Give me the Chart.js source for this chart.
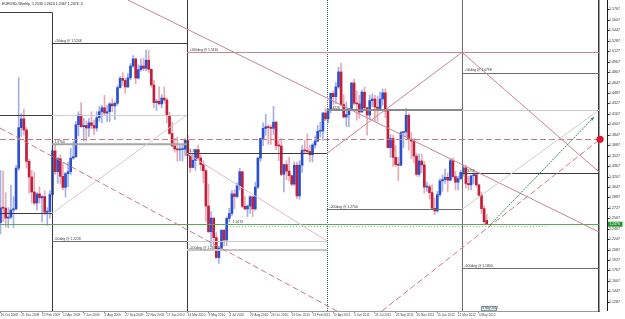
<!DOCTYPE html>
<html><head><meta charset="utf-8">
<script src="https://cdn.jsdelivr.net/npm/chart.js@4.4.0/dist/chart.umd.min.js"></script>
<style>html,body{margin:0;padding:0;background:#fff;overflow:hidden}canvas{display:block}</style>
</head><body>
<canvas id="c" width="625" height="319"></canvas>
<script>
// Weekly EURUSD candles, week index 0 = 26 Oct 2008 ... 187 = 27 May 2012
const opens = [
1.2500,1.2727,1.2722,1.2570,1.2585,1.2695,1.2712,1.3335,1.3955,1.4090,
1.3920,1.3440,1.3200,1.2970,1.2800,1.2940,1.2880,1.2900,1.2660,1.2670,
1.2930,1.3600,1.3280,1.3480,1.3210,1.3040,1.3250,1.3280,1.3490,1.3510,
1.4000,1.4150,1.3970,1.3990,1.3950,1.4030,1.3990,1.3950,1.4110,1.4200,
1.4260,1.4180,1.4200,1.4320,1.4290,1.4330,1.4570,1.4710,1.4680,1.4580,
1.4720,1.4900,1.5010,1.4715,1.4845,1.4900,1.4865,1.4990,1.4850,1.4610,
1.4340,1.4360,1.4320,1.4410,1.4380,1.4140,1.3865,1.3675,1.3630,1.3615,
1.3620,1.3625,1.3760,1.3530,1.3345,1.3455,1.3615,1.3490,1.3390,1.3295,
1.2755,1.2360,1.2570,1.2270,1.1965,1.2110,1.2385,1.2235,1.2565,1.2640,
1.2940,1.2900,1.3065,1.3280,1.2750,1.2710,1.2755,1.2895,1.2710,1.3045,
1.3490,1.3790,1.3945,1.3970,1.3955,1.3945,1.4040,1.3690,1.3675,1.3240,
1.3390,1.3290,1.3220,1.3090,1.3380,1.2910,1.3380,1.3610,1.3600,1.3590,
1.3540,1.3690,1.3750,1.3900,1.3905,1.4180,1.4090,1.4230,1.4480,1.4430,
1.4580,1.4810,1.4310,1.4120,1.4155,1.4250,1.4640,1.4330,1.4320,1.4195,
1.4500,1.4260,1.4150,1.4370,1.4395,1.4270,1.4250,1.4395,1.4490,1.4210,
1.3650,1.3790,1.3500,1.3390,1.3380,1.3880,1.3890,1.4145,1.3780,1.3750,
1.3520,1.3240,1.3445,1.3385,1.3045,1.3050,1.2960,1.2720,1.2680,1.2930,
1.3140,1.3160,1.3195,1.3150,1.3450,1.3205,1.3120,1.3175,1.3270,1.3340,
1.3100,1.3080,1.3220,1.3235,1.3080,1.2920,1.2715,1.2535];
const highs = [
1.3297,1.3292,1.2960,1.2730,1.3070,1.2900,1.3377,1.4720,1.4170,1.4240,
1.3960,1.3470,1.3300,1.3270,1.2960,1.3050,1.2920,1.2990,1.2730,1.2990,
1.3740,1.3700,1.3500,1.3540,1.3420,1.3270,1.3430,1.3640,1.3740,1.4050,
1.4200,1.4340,1.4100,1.4060,1.4100,1.4200,1.4070,1.4200,1.4280,1.4300,
1.4450,1.4300,1.4340,1.4400,1.4350,1.4600,1.4740,1.4800,1.4710,1.4790,
1.4940,1.5060,1.5020,1.4920,1.5010,1.5020,1.5144,1.5140,1.4860,1.4680,
1.4390,1.4580,1.4460,1.4580,1.4410,1.4190,1.4040,1.3790,1.3810,1.3690,
1.3700,1.3790,1.3840,1.3630,1.3560,1.3630,1.3690,1.3530,1.3450,1.3320,
1.3090,1.2670,1.2570,1.2350,1.2140,1.2390,1.2390,1.2590,1.2720,1.2990,
1.3000,1.3110,1.3334,1.3290,1.2900,1.2770,1.2910,1.2900,1.3120,1.3500,
1.3790,1.4030,1.4160,1.4000,1.3990,1.4282,1.4050,1.3760,1.3790,1.3400,
1.3450,1.3500,1.3230,1.3430,1.3430,1.3450,1.3680,1.3760,1.3860,1.3690,
1.3710,1.3830,1.3990,1.4040,1.4190,1.4250,1.4250,1.4490,1.4520,1.4650,
1.4880,1.4940,1.4460,1.4350,1.4250,1.4650,1.4700,1.4520,1.4450,1.4530,
1.4580,1.4270,1.4450,1.4470,1.4450,1.4440,1.4500,1.4550,1.4550,1.4240,
1.3850,1.3840,1.3680,1.3500,1.3900,1.3900,1.4247,1.4170,1.3880,1.3790,
1.3560,1.3550,1.3550,1.3440,1.3120,1.3080,1.3080,1.2880,1.2980,1.3170,
1.3230,1.3320,1.3260,1.3486,1.3490,1.3290,1.3210,1.3300,1.3390,1.3380,
1.3210,1.3210,1.3270,1.3280,1.3080,1.2970,1.2760,1.2624];
const lows = [
1.2330,1.2520,1.2430,1.2420,1.2560,1.2425,1.2690,1.3300,1.3820,1.3840,
1.3340,1.2950,1.2800,1.2770,1.2690,1.2800,1.2510,1.2620,1.2457,1.2570,
1.2890,1.3240,1.3100,1.3100,1.3000,1.2890,1.3050,1.3230,1.3470,1.3500,
1.3830,1.3960,1.3750,1.3750,1.3820,1.3940,1.3850,1.3900,1.4050,1.4030,
1.4150,1.4050,1.4050,1.4200,1.4080,1.4300,1.4560,1.4600,1.4480,1.4570,
1.4690,1.4880,1.4630,1.4700,1.4820,1.4830,1.4830,1.4800,1.4580,1.4260,
1.4220,1.4310,1.4260,1.4330,1.4030,1.3850,1.3670,1.3580,1.3440,1.3450,
1.3440,1.3530,1.3520,1.3270,1.3340,1.3300,1.3470,1.3300,1.3110,1.2520,
1.2350,1.2140,1.2140,1.1950,1.1876,1.2090,1.2140,1.2150,1.2510,1.2610,
1.2710,1.2880,1.3000,1.2730,1.2700,1.2590,1.2640,1.2590,1.2690,1.3020,
1.3440,1.3680,1.3840,1.3700,1.3700,1.3850,1.3620,1.3450,1.3220,1.2970,
1.3160,1.3140,1.3060,1.3070,1.2870,1.2860,1.3270,1.3570,1.3570,1.3430,
1.3430,1.3640,1.3740,1.3810,1.3760,1.4060,1.4030,1.4180,1.4310,1.4320,
1.4560,1.4290,1.4100,1.3970,1.3970,1.4220,1.4300,1.4070,1.4100,1.4190,
1.4230,1.3840,1.4080,1.4280,1.4050,1.4050,1.4220,1.4300,1.4110,1.3640,
1.3500,1.3360,1.3360,1.3146,1.3370,1.3650,1.3820,1.3610,1.3480,1.3420,
1.3210,1.3210,1.3260,1.2950,1.2980,1.2860,1.2700,1.2624,1.2660,1.2900,
1.2980,1.3100,1.2970,1.3140,1.3180,1.3000,1.3000,1.3160,1.3210,1.3030,
1.3000,1.3000,1.3100,1.3050,1.2900,1.2640,1.2490,1.2467];
const closes = [
1.2727,1.2722,1.2570,1.2585,1.2695,1.2712,1.3335,1.3955,1.4090,1.3920,
1.3440,1.3200,1.2970,1.2800,1.2940,1.2880,1.2900,1.2660,1.2670,1.2930,
1.3600,1.3280,1.3480,1.3210,1.3040,1.3250,1.3280,1.3490,1.3510,1.4000,
1.4150,1.3970,1.3990,1.3950,1.4030,1.3990,1.3950,1.4110,1.4200,1.4260,
1.4180,1.4200,1.4320,1.4290,1.4330,1.4570,1.4710,1.4680,1.4580,1.4720,
1.4900,1.5010,1.4715,1.4845,1.4900,1.4865,1.4990,1.4850,1.4610,1.4340,
1.4360,1.4320,1.4410,1.4380,1.4140,1.3865,1.3675,1.3630,1.3615,1.3625,
1.3625,1.3760,1.3530,1.3345,1.3455,1.3615,1.3490,1.3390,1.3295,1.2755,
1.2360,1.2570,1.2270,1.1965,1.2110,1.2385,1.2235,1.2565,1.2640,1.2940,
1.2900,1.3065,1.3280,1.2750,1.2710,1.2755,1.2895,1.2710,1.3045,1.3490,
1.3790,1.3945,1.3970,1.3955,1.3945,1.4040,1.3680,1.3675,1.3240,1.3390,
1.3290,1.3220,1.3090,1.3380,1.2910,1.3380,1.3610,1.3600,1.3590,1.3540,
1.3690,1.3750,1.3900,1.3905,1.4180,1.4090,1.4230,1.4480,1.4430,1.4580,
1.4810,1.4310,1.4120,1.4155,1.4250,1.4640,1.4330,1.4320,1.4195,1.4500,
1.4260,1.4150,1.4370,1.4395,1.4270,1.4250,1.4395,1.4490,1.4210,1.3650,
1.3790,1.3500,1.3390,1.3380,1.3880,1.3890,1.4145,1.3780,1.3750,1.3520,
1.3240,1.3445,1.3385,1.3045,1.3050,1.2960,1.2720,1.2680,1.2930,1.3140,
1.3160,1.3195,1.3150,1.3450,1.3205,1.3120,1.3175,1.3270,1.3340,1.3100,
1.3080,1.3220,1.3235,1.3080,1.2920,1.2715,1.2515,1.2476];

// Date axis labels (every 8th week) and their week indices
const xTickIdx = [0,8,16,24,32,40,48,56,64,72,80,88,96,104,112,120,128,136,144,152,160,168,176,184];
const xLabels = ['26 Oct 2008','21 Dec 2008','15 Feb 2009','12 Apr 2009','7 Jun 2009','2 Aug 2009','27 Sep 2009','22 Nov 2009','17 Jan 2010','14 Mar 2010','9 May 2010','4 Jul 2010','29 Aug 2010','24 Oct 2010','19 Dec 2010','13 Feb 2011','10 Apr 2011','5 Jun 2011','31 Jul 2011','25 Sep 2011','20 Nov 2011','15 Jan 2012','11 Mar 2012','6 May 2012'];
// Price axis labels
const yTicks = [1.1287,1.1447,1.1607,1.1767,1.1927,1.2087,1.2247,1.2407,1.2567,1.2727,1.2887,1.3047,1.3207,1.3367,1.3527,1.3687,1.3847,1.4007,1.4167,1.4327,1.4487,1.4647,1.4807,1.4967,1.5127,1.5287,1.5447,1.5607,1.5767];

// Chart objects in data coordinates: [fromWeek, fromPrice, toWeek, toPrice, styleName]
const objLines = [
  [-0.2,1.5724,19.8,1.5724,'dark'],
  [19.8,1.5724,19.8,1.1146,'dark'],
  [71.73,1.5912,71.73,1.1146,'dark'],
  [125.6,1.5912,125.6,1.1146,'tealDot'],
  [177.5,1.5912,177.5,1.1146,'midGray'],
  [19.8,1.5248,71.73,1.5248,'dark'],
  [71.73,1.5110,230.2,1.5110,'pink'],
  [-0.2,1.4150,19.8,1.4150,'dark'],
  [19.8,1.4150,71.73,1.4150,'light'],
  [-0.2,1.3777,230.6,1.3777,'pinkDash'],
  [19.8,1.3700,71.73,1.3700,'thickGray'],
  [71.73,1.3563,125.6,1.3563,'dark'],
  [125.6,1.4226,177.5,1.4226,'thickMid'],
  [177.5,1.4226,230.2,1.4226,'light'],
  [177.5,1.4798,230.2,1.4798,'midGray'],
  [177.5,1.3256,230.2,1.3256,'dark'],
  [125.6,1.2704,177.5,1.2704,'midGray'],
  [-0.2,1.2474,230.2,1.2474,'green'],
  [88.3,1.2448,210.6,1.2448,'greenDot'],
  [177.5,1.1800,230.2,1.1800,'midGray'],
  [-0.2,1.2643,19.8,1.2643,'dark'],
  [19.8,1.2218,71.73,1.2218,'midGray'],
  [71.73,1.2218,125.6,1.2218,'light'],
  [71.73,1.2081,125.6,1.2081,'thickLight'],
  [49.0,1.5912,230.2,1.2356,'pink'],
  [-0.2,1.3950,129.4,1.1146,'pinkDash'],
  [19.8,1.2643,71.73,1.4150,'light'],
  [71.73,1.3563,125.6,1.2218,'lightPink'],
  [125.6,1.3563,177.5,1.5110,'pink'],
  [177.5,1.5110,230.2,1.3276,'pink'],
  [177.5,1.2704,230.2,1.4226,'light'],
  [146.7,1.1146,230.6,1.3777,'pinkDash']
];
const trendArrow = [188.3,1.2467,228.3,1.4119];
const alertPoint = [230.6,1.3777];
// [week, price, text]
const objLabels = [
  [19.8,1.5248,'+50deg @ 1.5248'],
  [71.73,1.5110,'+200deg @ 1.5110'],
  [19.8,1.3700,'1.3700'],
  [71.73,1.3563,'1.3563'],
  [19.8,1.2218,'-50deg @ 1.2218'],
  [71.73,1.2081,'-200deg @ 1.2081'],
  [88.3,1.2474,'1.2474'],
  [125.6,1.4226,'1.4226'],
  [125.6,1.2704,'-200deg @ 1.2704'],
  [177.5,1.4798,'+50deg @ 1.4798'],
  [177.5,1.3256,'1.3256'],
  [177.5,1.1800,'-100deg @ 1.1800']
];
const headerText = 'EURUSD,Weekly  1.2535 1.2624 1.2467 1.2476  0';
const markerWeek = 184, markerText = '6 May 2012';

const lineStyles = {
  dark:{c:'#3c3c3c',w:1,d:[]},
  midGray:{c:'#6e6e6e',w:1,d:[]},
  light:{c:'#cdcdcd',w:1,d:[]},
  thickGray:{c:'#a6a6a6',w:2,d:[]},
  thickMid:{c:'#8a8a8a',w:2,d:[]},
  thickLight:{c:'#c4c4c4',w:2,d:[]},
  pink:{c:'#c98592',w:1,d:[]},
  lightPink:{c:'#e2b8c0',w:1,d:[]},
  pinkDash:{c:'#c77a88',w:1,d:[6,3]},
  green:{c:'#5aa65a',w:1,d:[]},
  greenDot:{c:'#86c486',w:1,d:[1,2]},
  tealDot:{c:'#2d5a5a',w:1,d:[1,1]}
};
const UP = '#2a4fd0', DOWN = '#c41e3a', UPW = '#a3b0e4', DOWNW = '#e6a9b6';
const isUp = i => closes[i] >= opens[i];

const weeks = closes.map((_, i) => i);
const wickData = weeks.map(i => ({x:i, y:[lows[i], highs[i]]}));
const bodyData = weeks.map(i => ({x:i, y:[opens[i], closes[i]]}));

const FONT = '"Liberation Sans", Arial, sans-serif';

const overlay = {
  id:'overlay',
  afterDatasetsDraw(chart){
    const {ctx, scales:{x, y}, chartArea:a} = chart;
    const X = v => x.getPixelForValue(v), Y = v => y.getPixelForValue(v);
    ctx.save();
    for (const [i1,p1,i2,p2,k] of objLines){
      const s = lineStyles[k];
      let x1 = X(i1), y1 = Y(p1), x2 = X(i2), y2 = Y(p2);
      if (p1 === p2 && s.w === 1){ y1 = y2 = Math.round(y1) + 0.5; }
      if (i1 === i2){ x1 = x2 = Math.round(x1) + 0.5; }
      ctx.beginPath(); ctx.strokeStyle = s.c; ctx.lineWidth = s.w; ctx.setLineDash(s.d);
      ctx.moveTo(x1,y1); ctx.lineTo(x2,y2); ctx.stroke();
    }
    {
      const [i1,p1,i2,p2] = trendArrow;
      const x1 = X(i1), y1 = Y(p1), x2 = X(i2), y2 = Y(p2);
      ctx.beginPath(); ctx.strokeStyle = '#2f8a50'; ctx.lineWidth = 1; ctx.setLineDash([2,1]);
      ctx.moveTo(x1,y1); ctx.lineTo(x2,y2); ctx.stroke();
      ctx.setLineDash([]);
      const ang = Math.atan2(y2-y1, x2-x1), L = 4;
      ctx.beginPath(); ctx.fillStyle = '#2f8a50';
      ctx.moveTo(x2,y2);
      ctx.lineTo(x2 - L*Math.cos(ang-0.4), y2 - L*Math.sin(ang-0.4));
      ctx.lineTo(x2 - L*Math.cos(ang+0.4), y2 - L*Math.sin(ang+0.4));
      ctx.closePath(); ctx.fill();
    }
    ctx.setLineDash([]);
    ctx.font = '3.4px ' + FONT; ctx.fillStyle = '#333'; ctx.textBaseline = 'bottom'; ctx.textAlign = 'left';
    for (const [i,p,t] of objLabels){ ctx.fillText(t, X(i)+2.5, Y(p)-0.6); }
    ctx.font = '3.6px ' + FONT; ctx.textBaseline = 'middle'; ctx.fillStyle = '#222';
    ctx.fillText(headerText, 2, 4);
    ctx.beginPath(); ctx.fillStyle = '#e0142c';
    ctx.arc(X(alertPoint[0]), Y(alertPoint[1]), 3.6, 0, Math.PI*2); ctx.fill();
    const sx = a.right + 8.5;
    ctx.beginPath(); ctx.strokeStyle = '#1a1a1a'; ctx.lineWidth = 1;
    ctx.moveTo(sx, 0); ctx.lineTo(sx, a.bottom);
    for (const v of yTicks){ const ty = Math.round(Y(v)) + 0.5; ctx.moveTo(sx, ty); ctx.lineTo(sx+2, ty); }
    ctx.stroke();
    const last = closes[closes.length-1];
    const cy = Y(last);
    ctx.fillStyle = '#1f9a2c'; ctx.fillRect(sx+0.5, cy-2.5, 14.5, 5);
    ctx.fillStyle = '#fff'; ctx.font = '3.4px ' + FONT; ctx.textBaseline = 'middle';
    ctx.fillText(last.toFixed(4), sx+2, cy);
    const mx = X(markerWeek) + 2;
    ctx.fillStyle = '#e9f1f1'; ctx.fillRect(mx, a.bottom-5, 16, 4.5);
    ctx.strokeStyle = '#7aa0a0'; ctx.strokeRect(mx+0.5, a.bottom-4.5, 15, 4);
    ctx.fillStyle = '#335'; ctx.font = '3px ' + FONT;
    ctx.fillText(markerText, mx+1.5, a.bottom-2.5);
    ctx.restore();
  }
};

new Chart(document.getElementById('c'), {
  type:'bar',
  data:{
    datasets:[
      {label:'wicks', data:wickData, grouped:false, maxBarThickness:1, barPercentage:1, categoryPercentage:1,
        backgroundColor: ctx => isUp(ctx.dataIndex) ? UPW : DOWNW, borderWidth:0, order:2},
      {label:'bodies', data:bodyData, grouped:false, maxBarThickness:2, barPercentage:1, categoryPercentage:1, minBarLength:1,
        backgroundColor: ctx => isUp(ctx.dataIndex) ? UP : DOWN, borderWidth:0, order:1}
    ]
  },
  options:{
    responsive:false, animation:false, devicePixelRatio:1, events:[],
    layout:{padding:0},
    plugins:{legend:{display:false}, tooltip:{enabled:false}},
    scales:{
      x:{
        type:'linear', min:-0.19, max:230.19, offset:false, bounds:'data',
        grid:{display:true, drawOnChartArea:false, drawTicks:true, tickLength:2, color:'#8a8a8a', offset:false},
        border:{display:true, color:'#9a9a9a'},
        ticks:{font:{size:3.2, family:FONT}, color:'#444', align:'start', maxRotation:0, minRotation:0, autoSkip:false, padding:0,
          callback: v => { const k = xTickIdx.indexOf(v); return k >= 0 ? xLabels[k] : ''; }},
        afterBuildTicks: s => { s.ticks = xTickIdx.map(v => ({value:v})); },
        afterFit: s => { s.height = 8; s.paddingLeft = 0; s.paddingRight = 0; }
      },
      y:{
        type:'linear', position:'right', min:1.1146, max:1.5912, bounds:'data', beginAtZero:false,
        grid:{display:true, drawOnChartArea:false, drawTicks:true, tickLength:10, color:'rgba(0,0,0,0)'},
        border:{display:true, color:'#3a3a3a', width:1.5},
        ticks:{font:{size:3.6, family:FONT}, color:'#333', padding:0, autoSkip:false,
          callback: v => Number(v).toFixed(4)},
        afterBuildTicks: s => { s.ticks = yTicks.map(v => ({value:v})); },
        afterFit: s => { s.width = 26; s.paddingTop = 0; s.paddingBottom = 0; }
      }
    }
  },
  plugins:[overlay]
});
</script>
</body></html>
